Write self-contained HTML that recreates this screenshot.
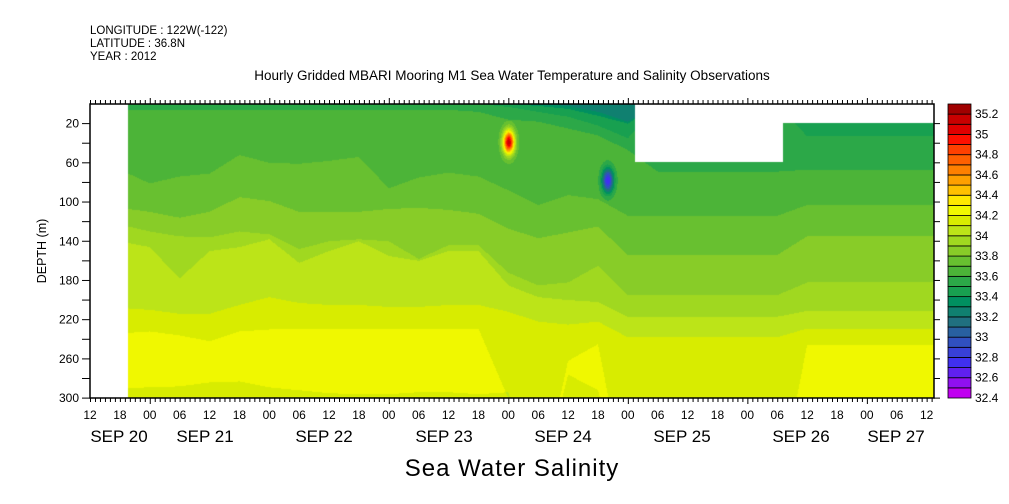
<!DOCTYPE html>
<html><head><meta charset="utf-8">
<style>
body{margin:0;background:#fff;}
#wrap{position:relative;width:1009px;height:504px;overflow:hidden;font-family:"Liberation Sans",sans-serif;}
#field{position:absolute;left:90px;top:104px;}
svg{position:absolute;left:0;top:0;}
</style></head>
<body>
<div id="wrap">
<canvas id="field" width="844" height="294"></canvas>
<svg id="ax" width="1009" height="504">
  <text x="90" y="34" font-size="11.5">LONGITUDE : 122W(-122)</text>
  <text x="90" y="47" font-size="11.5">LATITUDE : 36.8N</text>
  <text x="90" y="60" font-size="11.5">YEAR : 2012</text>
  <text x="512" y="80" font-size="13.5" text-anchor="middle">Hourly Gridded MBARI Mooring M1 Sea Water Temperature and Salinity Observations</text>
  <text transform="translate(46,251) rotate(-90)" font-size="12.5" text-anchor="middle">DEPTH (m)</text>
  <text x="512" y="476" font-size="24" text-anchor="middle" letter-spacing="1">Sea Water Salinity</text>
</svg>
</div>
<script>
// ---- data ----
const hours = [6,12,18,24,30,36,42,48,54,60,66,72,78,84,90,96,102,108,114,120,126,132,138,144,150,156,162,168,174];
const edge333 = [0,0,0,0,0,0,0,0,0,0,0,0,0,0,0,2,8,18,0,0,0,0,0,0,0,0,0,0,0];
const edge334 = [0,0,0,0,0,0,0,0,0,0,0,0,0,0,2,5,12,20,0,0,0,0,0,0,0,0,0,0,0];
const edge335 = [0,0,0,0,0,0,0,0,0,0,0,0,0,3,8,13,22,35,0,0,0,0,0,33,33,33,33,33,33];
const edge336 = [6,6,6,6,6,6,6,6,6,6,6,6,8,16,18,25,32,47,69,69,69,69,69,67,67,67,67,67,67];
const edge337 = [67,81,74,71,52,60,61,58,54,86,75,70,74,88,103,93,97,114,114,114,114,114,114,103,103,103,103,103,103];
const edge338 = [106,110,116,110,95,99,110,110,110,107,106,108,112,127,137,131,125,154,154,154,154,154,154,135,135,135,135,135,135];
const edge339 = [123,130,135,136,130,133,148,140,138,140,158,144,144,172,185,182,165,195,195,195,195,195,195,182,182,182,182,182,182];
const edge340 = [140,146,178,150,146,138,162,150,140,155,160,150,150,185,197,200,202,217,217,217,217,217,217,211,211,211,211,211,211];
const edge341 = [208,210,214,214,205,197,203,205,205,207,207,205,205,212,222,225,222,238,238,238,238,238,238,229,229,229,229,229,229];
const edge342 = [234,232,236,242,232,230,229,229,229,229,229,229,229,300,400,262,245,400,400,400,400,400,400,246,246,246,246,246,246];
const edgeDrop = [290,289,288,284,283,289,292,295,296,296,294,294,296,294,400,276,292,400,400,400,400,400,400,400,400,400,400,400,400];
const blobHour = [84.1, 104.0];
const blobDepth = [39, 78];
const blobAmp = [1.5, -0.95];
const levels = [32.4,32.6,32.8,33,33.2,33.4,33.6,33.8,34,34.2,34.4,34.6,34.8,35,35.2];
const tickHours = [0,6,12,18,24,30,36,42,48,54,60,66,72,78,84,90,96,102,108,114,120,126,132,138,144,150,156,162,168];
const depthLabels = [20,60,100,140,180,220,260,300];
const dayLabels = ["SEP 20","SEP 21","SEP 22","SEP 23","SEP 24","SEP 25","SEP 26","SEP 27"];
const colors = ["#c000f0","#9010f0","#6020f0","#4030f0","#3840d8","#3050c0","#2860a0","#207080","#108070","#009060","#18a050","#2ca848","#4cb438","#68c030","#88cc28","#a0d820","#bce418","#d8ec00","#f0f800","#ffe800","#ffc000","#ffa000","#ff8000","#ff6000","#ff4000","#ff1000","#e00000","#c80000","#a00000"];

// ---- scales ----
const X0=90, X1=934, Y0=104, Y1=398, PXH=4.98, PXM=(398-123.5)/280;
const xOf = h => X0 + h*PXH;
const yOf = d => Y0 + d*PXM;
const hOf = x => (x-X0)/PXH;
const dOf = y => (y-Y0)/PXM;

function interp(arr, h){
  if(h<=hours[0]) return arr[0];
  if(h>=hours[hours.length-1]) return arr[arr.length-1];
  let i=0; while(hours[i+1]<h) i++;
  const f=(h-hours[i])/(hours[i+1]-hours[i]);
  return arr[i]+(arr[i+1]-arr[i])*f;
}
function hex(c){return [parseInt(c.slice(1,3),16),parseInt(c.slice(3,5),16),parseInt(c.slice(5,7),16)];}
const rgb = colors.map(hex);

// ---- field ----
const cv=document.getElementById('field'), ctx=cv.getContext('2d');
const img=ctx.createImageData(844,294);
const edges=[edge333,edge334,edge335,edge336,edge337,edge338,edge339,edge340,edge341,edge342];
for(let px=0;px<844;px++){
  const h=hOf(X0+px+0.5);
  const e=edges.map(a=>interp(a,h));
  const drop=interp(edgeDrop,h);
  for(let py=0;py<294;py++){
    const o=(py*844+px)*4;
    const d=dOf(Y0+py+0.5);
    let missing = h<7.6 || (h>=110.4 && d<19.5) || (h>=109.4 && h<139.2 && d<59);
    if(missing){img.data[o]=255;img.data[o+1]=255;img.data[o+2]=255;img.data[o+3]=255;continue;}
    let cls=8; for(const v of e) if(d>=v) cls++;
    if(d>=drop) cls--;
    let val=32.4+(cls+0.5)*0.1;
    for(let b=0;b<blobHour.length;b++){
      const dx=(xOf(h)-xOf(blobHour[b]))/4, dz=(d-blobDepth[b])/8.5;
      val+=blobAmp[b]*Math.exp(-0.5*(dx*dx+dz*dz));
    }
    let c=Math.floor((val-32.4)/0.1); c=Math.max(0,Math.min(28,c));
    const col=rgb[c];
    img.data[o]=col[0];img.data[o+1]=col[1];img.data[o+2]=col[2];img.data[o+3]=255;
  }
}
ctx.putImageData(img,0,0);

// ---- axes ----
const svg=document.getElementById('ax'), NS='http://www.w3.org/2000/svg';
function mk(tag,attrs,parent){const el=document.createElementNS(NS,tag);for(const k in attrs)el.setAttribute(k,attrs[k]);(parent||svg).appendChild(el);return el;}
const frame=mk('rect',{x:X0,y:Y0,width:X1-X0,height:Y1-Y0,fill:'none',stroke:'#000','stroke-width':1.5});


for(let h=0;h<=169;h++){
  const x=xOf(h)+0.5, major=((h+12)%24===0);
  const tb=mk('line',{x1:x,y1:Y1,x2:x,y2:Y1+(major?6:4),stroke:'#000','stroke-width':1});
  
  
  const tt=mk('line',{x1:x,y1:Y0,x2:x,y2:Y0-(major?6:4),stroke:'#000','stroke-width':1});
  
  
}
tickHours.forEach(h=>{
  const t=mk('text',{x:xOf(h),y:419,'font-size':12,'text-anchor':'middle'});
  t.textContent=String((h+12)%24).padStart(2,'0');
  
  
});
const dayX=[119,205,324,444,563,682,801,896];
dayLabels.forEach((s,i)=>{
  const t=mk('text',{x:dayX[i],y:442,'font-size':17,'text-anchor':'middle'});
  t.textContent=s;
  
  
});
for(let d=20;d<=300;d+=20){
  const y=yOf(d);
  const tl=mk('line',{x1:X0-8,y1:y,x2:X0,y2:y,stroke:'#000','stroke-width':1});
  
  
  const tr=mk('line',{x1:X1,y1:y,x2:X1+6,y2:y,stroke:'#000','stroke-width':1});
  
  
}
depthLabels.forEach(d=>{
  const t=mk('text',{x:X0-11,y:yOf(d)+4,'font-size':12,'text-anchor':'end'});
  t.textContent=d;
  
  
});
// ---- colorbar ----
const CB0=104, CB1=398, cellH=(CB1-CB0)/29;
colors.forEach((c,i)=>{
  const r=mk('rect',{x:948,y:CB1-(i+1)*cellH,width:23,height:cellH,fill:c,stroke:'#000','stroke-width':0.8});
  
  
});
levels.forEach(v=>{
  const y=CB1-(v-32.4)/0.1*cellH;
  const t=mk('text',{x:975,y:y+4,'font-size':12});
  t.textContent=(Math.round(v*10)/10).toString();
  
  
});
</script>
</body></html>
